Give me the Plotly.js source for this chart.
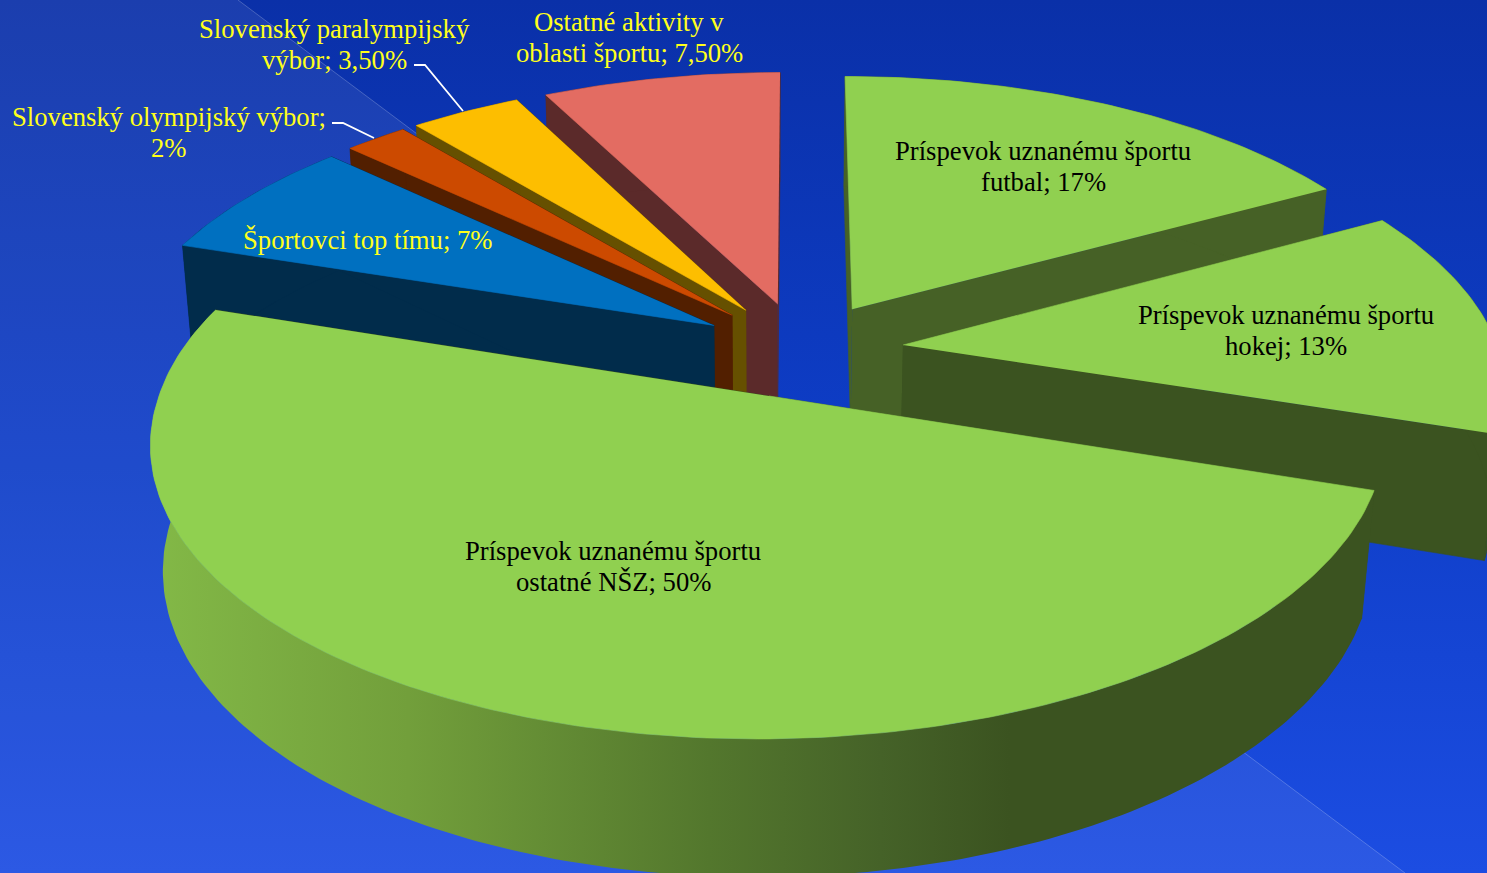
<!DOCTYPE html>
<html>
<head>
<meta charset="utf-8">
<script src="https://cdn.plot.ly/plotly-3.0.1.min.js"></script>
<style>
html,body{margin:0;padding:0;width:1487px;height:873px;overflow:hidden;background:linear-gradient(180deg,#0a30a8 0%,#0e3dc6 50%,#1c4de2 100%);}
#chart{width:1487px;height:873px;}
</style>
</head>
<body>
<div id="chart"></div>
<script>
// --- data, clockwise from 12 o'clock ---
const categories = [
  "Príspevok uznanému športu<br>futbal",
  "Príspevok uznanému športu<br>hokej",
  "Príspevok uznanému športu<br>ostatné NŠZ",
  "Športovci top tímu",
  "Slovenský olympijský výbor;<br>",
  "Slovenský paralympijský<br>výbor",
  "Ostatné aktivity v<br>oblasti športu"
];
const shares = [17, 13, 50, 7, 2, 3.5, 7.5];
const shareLabels = ["17%", "13%", "50%", "7%", "2%", "3,50%", "7,50%"];
const topColors  = ["#90d050", "#90d050", "#90d050", "#0070c0", "#cc4a00", "#fdbe00", "#e36c62"];
const wallColors = ["#466126", "#3b5320", "#3b5320", "#012c4b", "#521f00", "#665000", "#5b2a2a"];
const labelColors = ["#000000", "#000000", "#000000", "#ffff1a", "#ffff1a", "#ffff1a", "#ffff1a"];
const labelCenterX = [1043, 1285.5, 613, 367.5, 169, 334.5, 629];
const labelCenterY = [166.3, 330, 566.3, 239.5, 132, 44.3, 37.3];

// --- pie projection (perspective view of a unit disc) ---
const view = {cx: 769, cy: 396, A: 610, qFront: -10, qBack: -4, B: 291.5, k: 0.15, m: 0.02, H: 127, explode: 0.172};
function project(X, Y, low) {
  const w = 1 - view.k * Y + (low ? view.m : 0);
  const q = Y > 0 ? view.qFront : view.qBack;
  return [view.cx + (view.A * X + q * Y) / w, view.cy + (view.B * Y + (low ? view.H : 0)) / w];
}
const total = shares.reduce((a, b) => a + b, 0);
let acc = 0;
const sliceGeom = shares.map(v => {
  const a0 = acc / total * 2 * Math.PI; acc += v;
  const a1 = acc / total * 2 * Math.PI;
  return {a0, a1};
});
const dir = a => [Math.sin(a), -Math.cos(a)];
const bigIdx = shares.indexOf(Math.max(...shares));
const bigMid = (sliceGeom[bigIdx].a0 + sliceGeom[bigIdx].a1) / 2;
const hub = [-view.explode * dir(bigMid)[0], -view.explode * dir(bigMid)[1]];

function polyTrace(pts, color, extra) {
  return Object.assign({
    type: "scatter", mode: "lines", x: pts.map(p => p[0]), y: pts.map(p => p[1]),
    fill: "toself", fillcolor: color, line: {width: 0.6, color: color},
    hoverinfo: "skip", showlegend: false
  }, extra || {});
}
function sliceTraces(i) {
  const g = sliceGeom[i];
  const d = dir((g.a0 + g.a1) / 2);
  const o = [hub[0] + view.explode * d[0], hub[1] + view.explode * d[1]];
  const n = Math.max(4, Math.ceil((g.a1 - g.a0) / (Math.PI / 180)));
  const rim = [];
  for (let j = 0; j <= n; j++) {
    const e = dir(g.a0 + (g.a1 - g.a0) * j / n);
    rim.push([o[0] + e[0], o[1] + e[1]]);
  }
  const rimTop = rim.map(p => project(p[0], p[1], false));
  const rimLow = rim.map(p => project(p[0], p[1], true));
  const hubTop = project(o[0], o[1], false), hubLow = project(o[0], o[1], true);
  const wall = wallColors[i];
  const out = [];
  out.push(polyTrace([hubTop, rimTop[0], rimLow[0], hubLow], wall));
  out.push(polyTrace([hubTop, rimTop[n], rimLow[n], hubLow], wall));
  const outer = rimTop.concat(rimLow.slice().reverse());
  if (i === bigIdx) {
    out.push(polyTrace(outer, wall, {
      line: {width: 0},
      fillgradient: {
        type: "horizontal", start: 150, stop: 1010,
        colorscale: [[0, "#83b947"], [0.3, "#729f3b"], [0.65, "#53772d"], [0.85, "#456228"], [1, "#3b5320"]]
      }
    }));
  } else {
    out.push(polyTrace(outer, wall));
  }
  out.push(polyTrace([hubTop].concat(rimTop), topColors[i]));
  return out;
}
const paintOrder = [6, 5, 4, 3, 0, 1, 2];
const traces = [];
paintOrder.forEach(i => traces.push(...sliceTraces(i)));

const lineStep = 31;
const annotations = [];
categories.forEach((c, i) => {
  const sep = c.endsWith("<br>") ? "" : "; ";
  const lines = (c + sep + shareLabels[i]).split("<br>");
  lines.forEach((t, j) => {
    annotations.push({
      xref: "x", yref: "y", x: labelCenterX[i],
      y: labelCenterY[i] + (j - (lines.length - 1) / 2) * lineStep,
      text: t, showarrow: false, align: "center",
      xanchor: "center", yanchor: "middle",
      font: {family: "'Liberation Serif','Times New Roman',serif", size: 26.67, color: labelColors[i]}
    });
  });
});

const layout = {
  width: 1487, height: 873,
  margin: {l: 0, r: 0, t: 0, b: 0},
  paper_bgcolor: "rgba(0,0,0,0)", plot_bgcolor: "rgba(0,0,0,0)",
  xaxis: {range: [0, 1487], visible: false, fixedrange: true},
  yaxis: {range: [873, 0], visible: false, fixedrange: true},
  showlegend: false,
  annotations: annotations,
  shapes: [
    {type: "path", layer: "below", xref: "x", yref: "y",
     path: "M238,0 L1405,873 L0,873 L0,0 Z",
     fillcolor: "rgba(255,255,255,0.07)", line: {width: 0}},
    {type: "line", layer: "below", xref: "x", yref: "y", x0: 238, y0: 0, x1: 1405, y1: 873,
     line: {color: "rgba(255,255,255,0.22)", width: 1}},
    {type: "path", xref: "x", yref: "y", path: "M332,123 L343,123 L374,138", line: {color: "#ffffff", width: 1.8}},
    {type: "path", xref: "x", yref: "y", path: "M414,65 L425,65 L463,111", line: {color: "#ffffff", width: 1.8}}
  ]
};
Plotly.newPlot("chart", traces, layout, {displayModeBar: false, staticPlot: true});
</script>
</body>
</html>
